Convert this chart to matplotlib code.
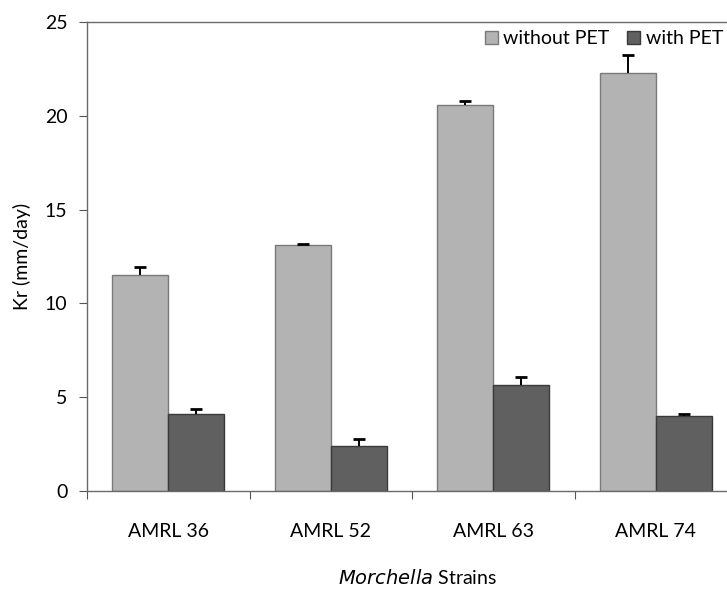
import matplotlib
matplotlib.use("Agg")
import matplotlib.pyplot as plt
import numpy as np

strains = ["AMRL 36", "AMRL 52", "AMRL 63", "AMRL 74"]
without_pet = [11.51, 13.10, 20.58, 22.26]
without_err = [0.41, 0.08, 0.23, 0.98]
with_pet = [4.10, 2.38, 5.65, 3.98]
with_err = [0.28, 0.41, 0.43, 0.12]
series_names = ["without PET", "with PET"]

plt.rcParams['font.family'] = ['Lato', 'DejaVu Sans']
FS = 14

W, H = 727, 589
fig = plt.figure(figsize=(W / 100, H / 100), dpi=100)
ax = fig.add_axes([87 / W, (H - 491) / H, 650 / W, 469 / H])

x = np.arange(len(strains)) + 0.5
bw = 0.345
series = [
    (x - bw / 2, without_pet, without_err, '#b3b3b3', '#7a7a7a', series_names[0]),
    (x + bw / 2, with_pet, with_err, '#606060', '#3a3a3a', series_names[1]),
]
for xs, vals, errs, fc, ec, name in series:
    ax.bar(xs, vals, bw, color=fc, edgecolor=ec, linewidth=1.0, label=name, zorder=2)
    vals = np.array(vals)
    errs = np.array(errs)
    ax.vlines(xs, vals, vals + errs, color='black', linewidth=1.4, zorder=3)
    ax.plot(xs, vals + errs, linestyle='none', marker='_', markersize=8,
            markeredgewidth=2.0, color='black', zorder=3)

ax.set_xlim(0, 4)
ax.set_ylim(0, 25)
ax.set_yticks([0, 5, 10, 15, 20, 25])
ax.set_xticks([0, 1, 2, 3, 4])
ax.set_xticklabels([])
ax.set_xticks(x, minor=True)
ax.set_xticklabels(strains, minor=True, fontsize=FS)
ax.tick_params(axis='x', which='minor', length=0, pad=23)
ax.tick_params(axis='x', which='major', length=6, direction='out', color='#555555')
ax.tick_params(axis='y', length=6, direction='out', color='#555555', labelsize=FS, pad=8)

for s in ['left', 'bottom', 'top']:
    ax.spines[s].set_color('#6a6a6a')
    ax.spines[s].set_linewidth(1.0)
ax.spines['right'].set_visible(False)

ax.set_ylabel("Kr (mm/day)", fontsize=FS, labelpad=10)
fig.text(418 / W, 1 - 577 / H, r"$\it{Morchella}$ Strains", ha='center', va='center',
         fontsize=FS)

leg = ax.legend(loc='upper right', bbox_to_anchor=(723 / W, 1 - 30 / H), bbox_transform=fig.transFigure,
                ncol=2, frameon=False, fontsize=FS, handlelength=0.65, handleheight=0.65,
                handletextpad=0.3, columnspacing=0.9, borderaxespad=0, borderpad=0)

fig.savefig("out.png", dpi=100)
